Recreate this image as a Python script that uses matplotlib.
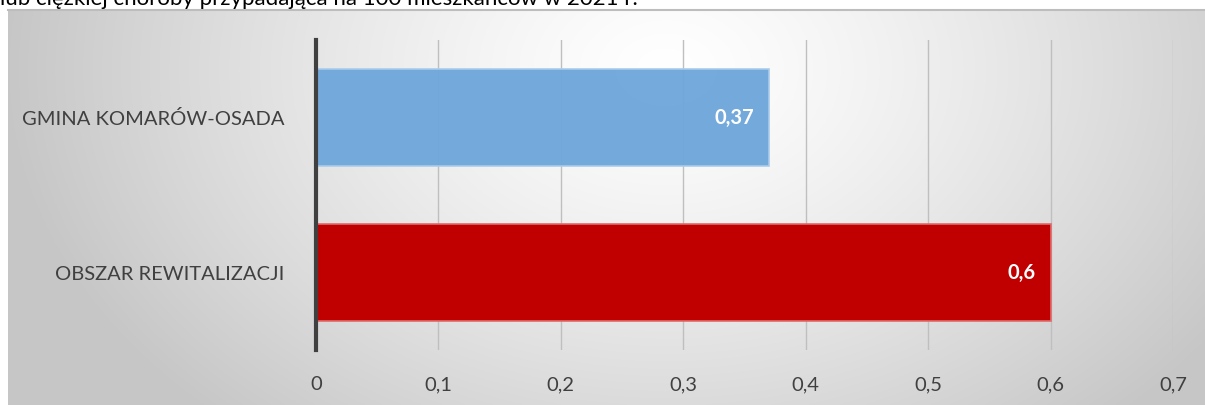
import numpy as np
import matplotlib
matplotlib.use("Agg")
import matplotlib.pyplot as plt

categories = ["GMINA KOMARÓW-OSADA", "OBSZAR REWITALIZACJI"]
values = [0.37, 0.6]
value_labels = ["0,37", "0,6"]
xticks = [0, 0.1, 0.2, 0.3, 0.4, 0.5, 0.6, 0.7]
xtick_labels = ["0", "0,1", "0,2", "0,3", "0,4", "0,5", "0,6", "0,7"]
bar_colors = ["#70A7DB", "#C00000"]
edge_colors = ["#A9CBEC", "#E06A6A"]
title_text = "lub ciężkiej choroby przypadająca na 100 mieszkańców w 2021 r."

W, H = 1205, 405
fig = plt.figure(figsize=(W / 100, H / 100), dpi=100)
fig.patch.set_facecolor("white")

FONT = ["Lato", "DejaVu Sans"]

# background panel with radial gradient
px0, py0 = 8, 10
bg = fig.add_axes([px0 / W, 0, 1 - px0 / W, (H - py0) / H])
bg.set_axis_off()
nx, ny = 600, 200
xx, yy = np.meshgrid(np.linspace(0, 1, nx), np.linspace(0, 1, ny))
cx, cy = 0.55, 0.15
d = np.sqrt(((xx - cx) / 0.55) ** 2 + ((yy - cy) / 1.2) ** 2)
d = np.clip(d, 0, 1)
light = 1.0 - 0.22 * d ** 1.3
img = np.dstack([light, light, light])
bg.imshow(img, extent=[0, 1, 1, 0], aspect="auto", interpolation="bilinear")
bg.set_xlim(0, 1)
bg.set_ylim(1, 0)
# top border line
fig.add_artist(plt.Line2D([px0 / W, 1], [(H - py0) / H, (H - py0) / H],
                          color="#bdbdbd", lw=1.5))

# title (clipped at top, as in the source image)
fig.text(0.0, (H - 5) / H, title_text, fontsize=16, family=FONT,
         color="#000000", ha="left", va="baseline")

# main axes
x0, x1 = 316, 1173
ytop, ybot = 40, 350
ax = fig.add_axes([x0 / W, (H - ybot) / H, (x1 - x0) / W, (ybot - ytop) / H])
ax.patch.set_alpha(0)
ypos = np.arange(len(categories))
bars = ax.barh(ypos, values, height=0.62, color=bar_colors,
               edgecolor=edge_colors, linewidth=1.2, zorder=3)
bars[0].set_alpha(0.97)
ax.set_xlim(0, 0.7)
ax.set_ylim(1.5, -0.5)
ax.set_xticks(xticks)
ax.set_xticklabels(xtick_labels)
ax.set_yticks(ypos)
ax.set_yticklabels(categories)
ax.grid(axis="x", color="#bfbfbf", lw=1, zorder=1)
for s in ["top", "right", "bottom"]:
    ax.spines[s].set_visible(False)
ax.spines["left"].set_color("#404040")
ax.spines["left"].set_linewidth(3)
ax.spines["left"].set_zorder(4)
ax.tick_params(axis="both", length=0, colors="#404040", labelsize=14.5)
ax.tick_params(axis="x", pad=19)
ax.tick_params(axis="y", pad=23)
for lab in ax.get_xticklabels() + ax.get_yticklabels():
    lab.set_family(FONT)

for y, v, t in zip(ypos, values, value_labels):
    ax.annotate(t, xy=(v, y), xytext=(-11, 0), textcoords="offset points",
                ha="right", va="center", color="white", fontsize=14.5,
                fontweight="bold", family=FONT, zorder=5)

fig.savefig("out.png", dpi=100)
